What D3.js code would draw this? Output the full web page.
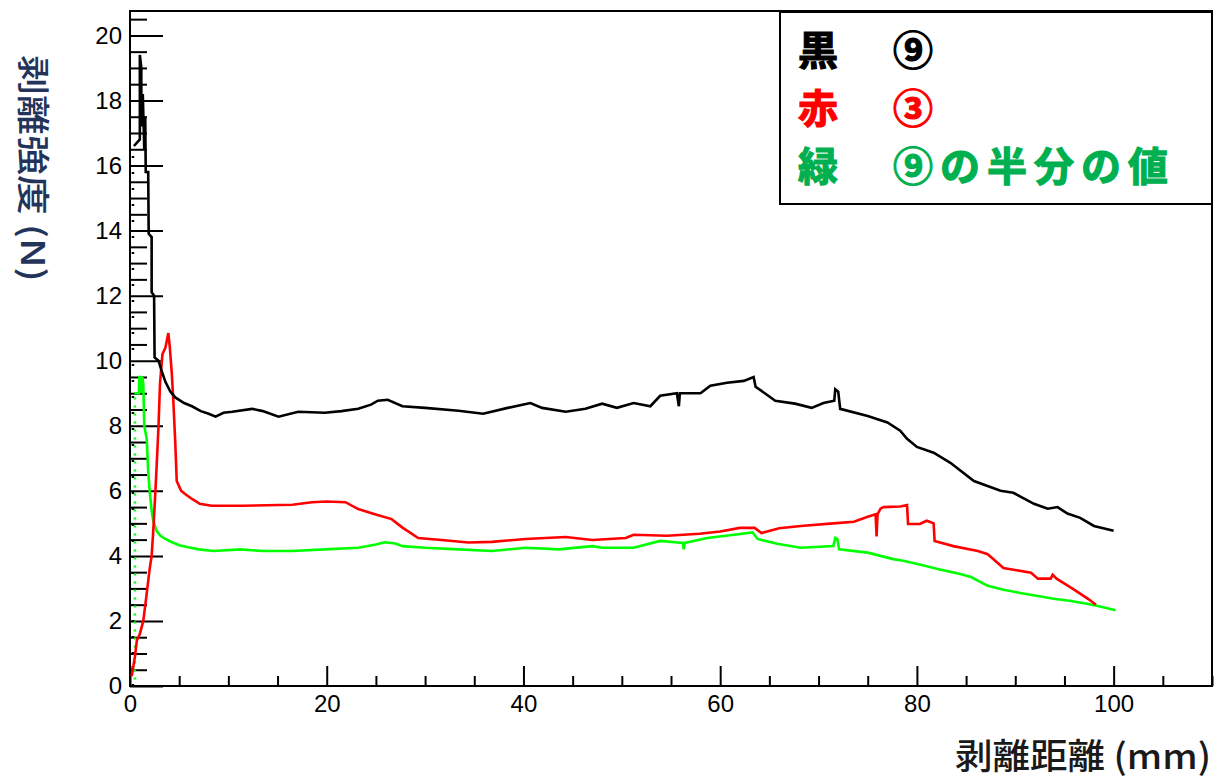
<!DOCTYPE html>
<html>
<head>
<meta charset="utf-8">
<script src="https://cdn.jsdelivr.net/npm/d3@7"></script>
<style>
  html, body { margin: 0; padding: 0; background: #fff; }
  svg { display: block; }
  .tick text { font-family: "Liberation Sans", Arial, sans-serif; font-size: 24px; fill: #000; }
</style>
</head>
<body>
<svg id="chart" width="1215" height="782"></svg>
<script>
// Peel distance (mm) vs peel strength (N)
const xTicksMajor = [0, 20, 40, 60, 80, 100];
const yTicksMajor = [0, 2, 4, 6, 8, 10, 12, 14, 16, 18, 20];

// sample ⑨ (black)
const blackRise = [[0.3, 0], [0.3, 16.6]];
const blackSeries = [
  [0.4,16.6],[1.0,16.8],[1.0,19.4],[1.15,19.0],[1.15,17.2],[1.3,18.2],[1.45,16.5],[1.55,17.5],
  [1.6,15.8],[1.85,15.8],[1.9,13.9],[2.2,13.8],[2.2,12.1],[2.45,12.0],[2.5,10.1],[2.9,10.0],
  [3.2,9.7],[3.6,9.35],[4.1,9.05],[4.6,8.87],[5.5,8.7],[6.3,8.6],[7.2,8.45],[8.0,8.37],
  [8.7,8.28],[9.5,8.4],[10.4,8.43],[12.4,8.52],[13.5,8.45],[15.1,8.28],[17.1,8.43],[19.8,8.4],
  [21.5,8.45],[23.2,8.52],[24.5,8.65],[25.2,8.77],[26.2,8.8],[27.7,8.6],[30,8.55],[33.4,8.46],
  [35.9,8.37],[38.4,8.55],[40.7,8.7],[41.9,8.55],[44.3,8.43],[46.3,8.52],[48,8.68],[49.5,8.55],
  [51.2,8.7],[52.9,8.6],[53.9,8.92],[55.6,9.0],[55.8,8.6],[55.9,9.0],[58,9.0],[59,9.23],
  [60.7,9.32],[62.4,9.38],[63.4,9.5],[63.6,9.2],[65.6,8.77],[67.6,8.68],[69.3,8.55],[70.5,8.7],
  [71.6,8.77],[71.7,9.12],[72.0,9.05],[72.2,8.52],[75,8.3],[77,8.1],[78.3,7.85],[79,7.6],
  [80,7.35],[81.7,7.17],[83.4,6.86],[85.8,6.3],[88.5,6.0],[89.8,5.94],[91.9,5.6],[93.3,5.45],
  [94.3,5.5],[95.3,5.3],[96.6,5.17],[98,4.92],[100,4.77]
];

// sample ③ (red)
const redSeries = [
  [0.17,0.3],[0.5,0.9],[0.7,1.4],[1.0,1.6],[1.35,2.0],[1.6,2.6],[2.0,3.6],[2.2,4.0],
  [2.35,4.7],[2.5,5.5],[2.7,6.7],[2.9,8.0],[3.05,9.3],[3.3,10.2],[3.6,10.4],[3.9,10.85],
  [4.05,10.4],[4.25,9.6],[4.4,8.8],[4.6,7.5],[4.75,6.3],[5.2,6.0],[5.6,5.9],[6.3,5.75],
  [7.1,5.6],[8.3,5.54],[11.4,5.54],[16.5,5.57],[18.5,5.65],[20,5.67],[21.9,5.65],[23.2,5.44],
  [24.9,5.28],[26.6,5.13],[27.7,4.87],[29.3,4.55],[31.7,4.49],[34.4,4.41],[36.8,4.43],[40.2,4.52],
  [44.3,4.58],[47,4.49],[50.4,4.55],[51.2,4.65],[54.6,4.62],[57.9,4.68],[60,4.75],[62,4.86],
  [63.5,4.86],[64.2,4.7],[66,4.85],[68.2,4.92],[71.5,5.0],[73.6,5.05],[75,5.2],[75.8,5.28],
  [75.9,4.6],[76.0,5.28],[76.3,5.45],[76.6,5.5],[78.3,5.52],[79,5.56],[79.1,4.98],[80.3,4.98],
  [81,5.08],[81.7,5.0],[81.8,4.46],[83.7,4.3],[86.2,4.15],[87.2,4.05],[88.8,3.63],[91.6,3.48],
  [92.3,3.3],[93.6,3.3],[93.8,3.42],[94.2,3.3],[95.9,2.98],[97.4,2.68],[98.2,2.5]
];

// half of sample ⑨ (green)
const greenRise = [[0.5, 0.2], [0.5, 9.0]];
const greenSeries = [
  [0.45,9.0],[0.9,9.0],[0.95,9.5],[1.1,9.5],[1.15,9.0],[1.25,9.5],[1.35,9.3],[1.45,8.0],
  [1.7,7.6],[1.85,6.6],[2.0,6.0],[2.2,5.4],[2.35,5.1],[2.7,4.77],[3.1,4.62],[3.6,4.52],
  [4.05,4.45],[5.0,4.33],[5.8,4.27],[7,4.2],[8.5,4.15],[11.2,4.2],[13.5,4.15],[16.5,4.15],
  [19.8,4.2],[23.2,4.25],[25,4.35],[25.9,4.42],[27,4.38],[27.7,4.3],[30,4.25],[33.4,4.2],
  [36.8,4.15],[40.2,4.25],[43.6,4.2],[47,4.3],[48,4.25],[51.2,4.25],[53.9,4.46],[56.2,4.4],
  [56.3,4.2],[56.4,4.4],[58.7,4.55],[61.4,4.65],[63.3,4.72],[63.8,4.52],[65.8,4.37],[68.2,4.25],
  [71.5,4.3],[71.7,4.55],[71.9,4.52],[72.1,4.2],[75,4.1],[77.6,3.9],[78.6,3.85],[80.5,3.72],
  [82.1,3.6],[84.4,3.44],[85.5,3.35],[87.2,3.08],[88.8,2.96],[90.5,2.86],[92,2.78],[93.9,2.68],
  [95.5,2.62],[97.4,2.52],[98.5,2.45],[100.2,2.33]
];

const legendRows = [
  { key: "黒", label: "⑨", color: "#000000" },
  { key: "赤", label: "③", color: "#ff0000" },
  { key: "緑", label: "⑨の半分の値", color: "#00b050" }
];

const svg = d3.select("#chart");
const frame = { left: 130, right: 1212, top: 11, bottom: 686 };

const x = d3.scaleLinear().domain([0, 110]).range([frame.left, frame.right]);
const y = d3.scaleLinear().domain([0, 20.75]).range([frame.bottom, frame.top]);

// minor ticks
const xMinor = d3.range(0, 110.01, 5).filter(v => v % 20 !== 0);
const yMinor = d3.range(0, 20.76, 0.5).filter(v => v % 2 !== 0);

svg.append("g")
  .attr("transform", `translate(${frame.left},0)`)
  .call(d3.axisLeft(y).tickValues(yMinor).tickSize(-17).tickFormat(""))
  .call(g => g.select(".domain").remove())
  .selectAll("line").attr("stroke", "#000").attr("stroke-width", 2);

svg.append("g")
  .attr("transform", `translate(0,${frame.bottom})`)
  .call(d3.axisBottom(x).tickValues(xMinor).tickSize(-10).tickFormat(""))
  .call(g => g.select(".domain").remove())
  .selectAll("line").attr("stroke", "#000").attr("stroke-width", 2);

// major ticks with labels
const yAxis = svg.append("g")
  .attr("transform", `translate(${frame.left},0)`)
  .call(d3.axisLeft(y).tickValues(yTicksMajor).tickSize(-33).tickPadding(8).tickFormat(d3.format("d")))
  .call(g => g.select(".domain").remove());
yAxis.selectAll("line").attr("stroke", "#000").attr("stroke-width", 2);
yAxis.attr("font-family", null).attr("font-size", null);

const xAxis = svg.append("g")
  .attr("transform", `translate(0,${frame.bottom})`)
  .call(d3.axisBottom(x).tickValues(xTicksMajor).tickSize(-20).tickPadding(9).tickFormat(d3.format("d")))
  .call(g => g.select(".domain").remove());
xAxis.selectAll("line").attr("stroke", "#000").attr("stroke-width", 2);
xAxis.attr("font-family", null).attr("font-size", null);

// frame
svg.append("rect")
  .attr("x", frame.left).attr("y", frame.top)
  .attr("width", frame.right - frame.left).attr("height", frame.bottom - frame.top)
  .attr("fill", "none").attr("stroke", "#000").attr("stroke-width", 2);

// series
const line = d3.line().x(d => x(d[0])).y(d => y(d[1]));

svg.append("path").datum(blackRise).attr("d", line)
  .attr("fill", "none").attr("stroke", "#000").attr("stroke-width", 2.5).attr("stroke-dasharray", "2,14");
svg.append("path").datum(greenRise).attr("d", line)
  .attr("fill", "none").attr("stroke", "#00ff00").attr("stroke-width", 2.5).attr("stroke-dasharray", "2,6");

[[greenSeries, "#00ff00"], [redSeries, "#ff0000"], [blackSeries, "#000000"]].forEach(([data, color]) => {
  svg.append("path").datum(data).attr("d", line)
    .attr("fill", "none").attr("stroke", color).attr("stroke-width", 2.6)
    .attr("stroke-linejoin", "miter");
});

// axis titles
svg.append("text")
  .attr("transform", "translate(21,55) rotate(90) scale(1,0.82)")
  .attr("font-family", "'Noto Sans CJK JP', sans-serif")
  .attr("font-size", 40).attr("font-weight", 500)
  .attr("fill", "#24335a")
  .text("剥離強度 (N)");

svg.append("text")
  .attr("x", 1211).attr("y", 769)
  .attr("text-anchor", "end")
  .attr("font-family", "'Noto Sans CJK JP', sans-serif")
  .attr("font-size", 35).attr("font-weight", 500)
  .attr("textLength", 256).attr("lengthAdjust", "spacingAndGlyphs")
  .attr("fill", "#1a1a1a")
  .text("剥離距離 (mm)");

// legend
const legend = svg.append("g");
legend.append("rect")
  .attr("x", 780).attr("y", 12).attr("width", 432).attr("height", 192)
  .attr("fill", "#fff").attr("stroke", "#000").attr("stroke-width", 2);

const rowY = [48, 106, 164];
legendRows.forEach((r, i) => {
  legend.append("text")
    .attr("x", 798).attr("y", rowY[i])
    .attr("dominant-baseline", "central")
    .attr("font-family", "'Noto Sans CJK JP', sans-serif")
    .attr("font-size", 40).attr("font-weight", 700)
    .attr("stroke", r.color).attr("stroke-width", 1.2)
    .attr("fill", r.color).text(r.key);
  legend.append("text")
    .attr("x", 893).attr("y", rowY[i])
    .attr("dominant-baseline", "central")
    .attr("font-family", "'Noto Sans CJK JP', sans-serif")
    .attr("font-size", 40).attr("font-weight", 700)
    .attr("letter-spacing", 7)
    .attr("stroke", r.color).attr("stroke-width", 1.2)
    .attr("fill", r.color).text(r.label);
});
</script>
</body>
</html>
